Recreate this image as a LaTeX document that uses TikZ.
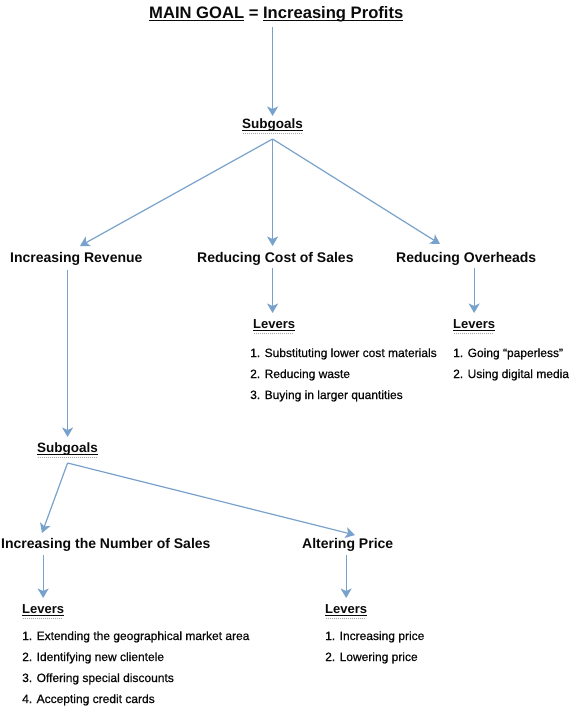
\documentclass[tikz,border=0pt]{standalone}
\usepackage{fontspec}
\setmainfont{Liberation Sans}
\newfontfamily\itemfont[FakeBold=0.8]{Liberation Sans}
\usetikzlibrary{arrows.meta,calc}
\definecolor{arrblue}{RGB}{120,162,204}
\definecolor{ink}{RGB}{10,10,10}
\newcommand\ulsolid[1]{\setbox0=\hbox{#1}\rlap{\rule[-3pt]{\wd0}{1.3pt}}\box0\relax}
\newcommand\uldot[1]{\setbox0=\hbox{#1}\rlap{\rule[-3pt]{\wd0}{1.2pt}}\rlap{\raisebox{-5.6pt}{\hbox to \wd0{\color{black!35}\leaders\hbox to 2pt{\hss\rule{1pt}{0.7pt}\hss}\hfill}}}\box0\relax}
\begin{document}
\begin{tikzpicture}[x=1pt,y=-1pt,
  txt/.style={anchor=base west,inner sep=0pt,text=ink},
  titlelbl/.style={txt,font=\fontsize{16.6pt}{19pt}\selectfont\bfseries},
  sublbl/.style={txt,font=\fontsize{13.5pt}{16pt}\selectfont\bfseries},
  goallbl/.style={txt,font=\fontsize{14pt}{16pt}\selectfont\bfseries},
  leverlbl/.style={txt,font=\fontsize{13pt}{15pt}\selectfont\bfseries},
  itemlbl/.style={txt,font=\fontsize{12pt}{14pt}\itemfont\selectfont},
  arr/.style={draw=arrblue,line width=1.2pt,-{Stealth[length=9.5pt,width=11pt,inset=2.5pt]}}]
\useasboundingbox (0,0) rectangle (568,707);
% nodes
\node[titlelbl] (title) at (149,18) {\ulsolid{MAIN GOAL} = \ulsolid{Increasing Profits}};
\node[sublbl] (sub1) at (242,128) {\uldot{Subgoals}};
\node[goallbl] (ir) at (10,262) {Increasing Revenue};
\node[goallbl] (rcs) at (197,262) {Reducing Cost of Sales};
\node[goallbl] (ro) at (396,262) {Reducing Overheads};
\node[leverlbl] (lev1) at (253,328) {\uldot{Levers}};
\node[itemlbl] (i1a) at (250,357) {1. Substituting lower cost materials};
\node[itemlbl] (i1b) at (250,378) {2. Reducing waste};
\node[itemlbl] (i1c) at (250,399) {3. Buying in larger quantities};
\node[leverlbl] (lev2) at (453,328) {\uldot{Levers}};
\node[itemlbl] (i2a) at (453,357) {1. Going “paperless”};
\node[itemlbl] (i2b) at (453,378) {2. Using digital media};
\node[sublbl] (sub2) at (37,452) {\uldot{Subgoals}};
\node[goallbl] (ins) at (1,548) {Increasing the Number of Sales};
\node[goallbl] (ap) at (302,548) {Altering Price};
\node[leverlbl] (lev3) at (22,613) {\uldot{Levers}};
\node[itemlbl] (i3a) at (22,640) {1. Extending the geographical market area};
\node[itemlbl] (i3b) at (22,661) {2. Identifying new clientele};
\node[itemlbl] (i3c) at (22,682) {3. Offering special discounts};
\node[itemlbl] (i3d) at (22,703) {4. Accepting credit cards};
\node[leverlbl] (lev4) at (325,613) {\uldot{Levers}};
\node[itemlbl] (i4a) at (325,640) {1. Increasing price};
\node[itemlbl] (i4b) at (325,661) {2. Lowering price};
% connectors
\draw[arr] ($(title.base -| sub1.base)+(0,9)$) -- ($(sub1.base)+(0,-12)$);
\draw[arr] ($(sub1.base)+(0,11)$) -- ($(ir.base west)+(70,-16)$);
\draw[arr] ($(sub1.base)+(0,11)$) -- ($(sub1.base |- rcs.base)+(0,-16)$);
\draw[arr] ($(sub1.base)+(0,11)$) -- ($(ro.base west)+(44,-18)$);
\draw[arr] ($(sub1.base |- rcs.base)+(0,6)$) -- ($(sub1.base |- lev1.base)+(0,-15)$);
\draw[arr] ($(lev2.base |- ro.base)+(0,6)$) -- ($(lev2.base)+(0,-15)$);
\draw[arr] ($(sub2.base |- ir.base)+(0,8)$) -- ($(sub2.base)+(0,-15)$);
\draw[arr] ($(sub2.base)+(0,11)$) -- ($(ins.base west)+(41,-15)$);
\draw[arr] ($(sub2.base)+(0,11)$) -- ($(ap.base west)+(53,-13)$);
\draw[arr] ($(lev3.base |- ins.base)+(0,7)$) -- ($(lev3.base)+(0,-15)$);
\draw[arr] ($(lev4.base |- ap.base)+(0,7)$) -- ($(lev4.base)+(0,-15)$);
\end{tikzpicture}
\end{document}
